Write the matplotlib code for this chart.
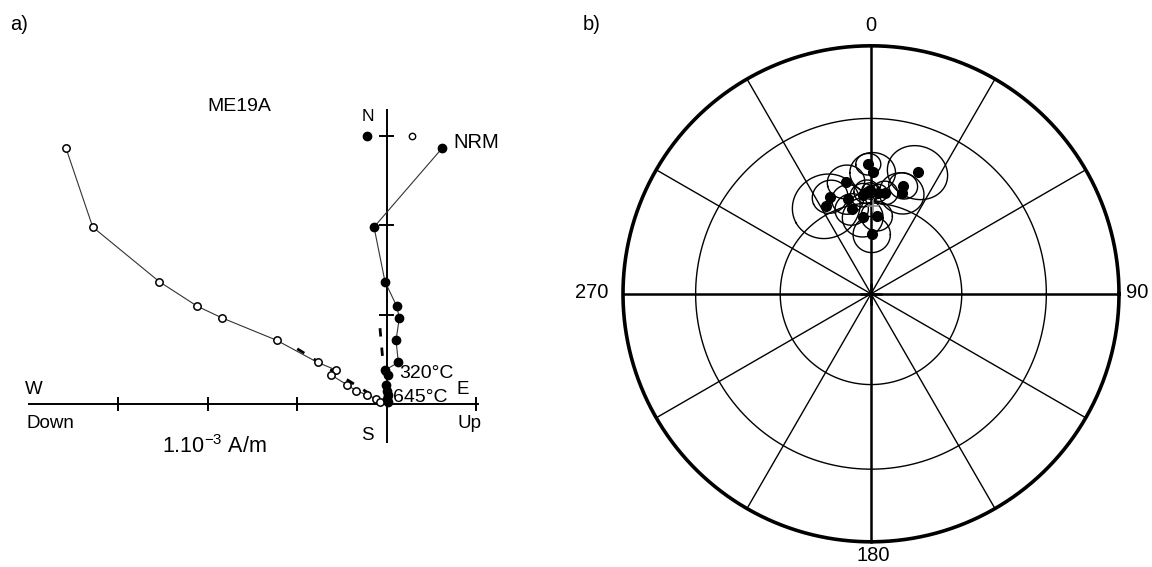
import numpy as np
import matplotlib
matplotlib.use("Agg")
import matplotlib.pyplot as plt


# ==========================================================
# PLOT STYLE
# ==========================================================
plt.rcParams.update({
    "font.family": ["Liberation Sans", "DejaVu Sans"],
    "mathtext.fontset": "custom",
    "mathtext.rm": "Liberation Sans",
    "mathtext.it": "Liberation Sans:italic",
    "mathtext.bf": "Liberation Sans:bold",
    "figure.dpi": 100,
    "savefig.dpi": 100,
})

COL_LINE = "#333333"


# ==========================================================
# DATA: a) ZIJDERVELD DIAGRAM (units of 1e-3 A/m)
# ==========================================================
north = [2.86, 1.98, 1.37, 1.095, 0.965, 0.715, 0.467, 0.383, 0.327,
         0.216, 0.152, 0.104, 0.062, 0.030]
east = [0.618, -0.142, -0.019, 0.112, 0.141, 0.104, 0.130, -0.019, 0.011,
        -0.008, 0.0, 0.011, 0.0, 0.010]
up = [-3.583, -3.285, -2.541, -2.116, -1.840, -1.229, -0.771, -0.566, -0.622,
      -0.440, -0.343, -0.217, -0.120, -0.080]

# principal component fits (end points)
fit_hor_east = [-0.075, 0.0]
fit_hor_north = [0.85, 0.0]
fit_ver_up = [-1.0, 0.0]
fit_ver_north = [0.62, 0.0]

x_ticks = [-3, -2, -1, 1]
y_ticks = [1, 2, 3]


# ==========================================================
# DATA: b) SITE DIRECTIONS, EQUAL-AREA
# ==========================================================
dec = [358.8, 0.8, 21.0, 347.4, 16.6, 17.0, 7.9, 357.6, 359.4, 337.1,
       346.1, 332.9, 347.1, 353.8, 4.2, 0.7, 355.4, 4.0]
inc = [46.6, 49.5, 46.4, 51.8, 52.5, 55.1, 56.2, 56.1, 55.6, 55.0,
       57.8, 57.3, 61.4, 64.7, 64.3, 70.5, 57.2, 56.5]
a95 = [3.8, 7.0, 9.3, 5.8, 4.5, 7.0, 4.0, 4.0, 2.5, 5.6,
       5.0, 10.8, 5.3, 6.5, 5.0, 6.0, 4.0, 3.0]

mean_dec, mean_inc = 1.0, 61.0

ring_incs = [30, 60]
spoke_decs = list(range(0, 360, 30))


# ==========================================================
# HELPERS
# ==========================================================
def proj(d, i):
    d = np.radians(d)
    i = np.radians(i)
    r = np.sqrt(2.0) * np.sin((np.pi / 2 - i) / 2)
    return r * np.sin(d), r * np.cos(d)


def small_circle(d, i, a, n=120):
    d, i, a = np.radians(d), np.radians(i), np.radians(a)
    v = np.array([np.cos(i) * np.cos(d), np.cos(i) * np.sin(d), np.sin(i)])
    ref = np.array([0.0, 0.0, 1.0]) if abs(v[2]) < 0.9 else np.array([1.0, 0.0, 0.0])
    u1 = np.cross(v, ref)
    u1 /= np.linalg.norm(u1)
    u2 = np.cross(v, u1)
    t = np.linspace(0, 2 * np.pi, n)
    p = (np.cos(a) * v[:, None]
         + np.sin(a) * (np.cos(t) * u1[:, None] + np.sin(t) * u2[:, None]))
    dd = np.degrees(np.arctan2(p[1], p[0]))
    ii = np.degrees(np.arcsin(np.clip(p[2], -1, 1)))
    return proj(dd, ii)


fig = plt.figure(figsize=(11.52, 5.67))

# ==========================================================
# a) ZIJDERVELD
# ==========================================================
ax = fig.add_axes([0, 0, 0.5, 1])
ax.set_xlim(-4.321, 2.115)
ax.set_ylim(-1.818, 4.517)
ax.axis("off")

ax.plot([-4.0, 1.02], [0, 0], color="k", lw=1.4, zorder=2)
ax.plot([0, 0], [-0.42, 3.29], color="k", lw=1.4, zorder=2)
for t in x_ticks:
    ax.plot([t, t], [-0.067, 0.067], color="k", lw=1.4, zorder=2)
for t in y_ticks:
    ax.plot([-0.075, 0.075], [t, t], color="k", lw=1.4, zorder=2)

ax.plot(fit_hor_east, fit_hor_north, color="k", lw=2.0, ls=(0, (3, 4)), zorder=3)
ax.plot(fit_ver_up, fit_ver_north, color="k", lw=2.0, ls=(0, (3, 4)), zorder=3)

ax.plot(east, north, color=COL_LINE, lw=0.8, zorder=4)
ax.plot(up, north, color=COL_LINE, lw=0.8, zorder=4)
ax.plot(up, north, ls="None", marker="o", ms=5.3, mfc="white", mec="k",
        mew=1.1, zorder=5)
ax.plot(east, north, ls="None", marker="o", ms=6.0, mfc="k", mec="k", zorder=6)

# symbol key at the top tick
ax.plot(-0.217, 3.0, ls="None", marker="o", ms=6.0, mfc="k", mec="k")
ax.plot(0.279, 3.0, ls="None", marker="o", ms=4.6, mfc="white", mec="k", mew=1.0)

ax.text(-1.65, 3.33, "ME19A", fontsize=14, ha="center", va="center")
ax.text(-0.21, 3.21, "N", fontsize=12.5, ha="center", va="center")
ax.text(0.74, 2.92, "NRM", fontsize=14.5, ha="left", va="center")
ax.text(-3.94, 0.17, "W", fontsize=13.5, ha="center", va="center")
ax.text(0.85, 0.17, "E", fontsize=13.5, ha="center", va="center")
ax.text(-4.03, -0.21, "Down", fontsize=13.5, ha="left", va="center")
ax.text(0.79, -0.21, "Up", fontsize=13.5, ha="left", va="center")
ax.text(-0.21, -0.345, "S", fontsize=13.5, ha="center", va="center")
ax.text(-2.515, -0.475, r"1.10$^{-3}$ A/m", fontsize=15.5, ha="left", va="center")
ax.text(0.14, 0.345, "320°C", fontsize=14, ha="left", va="center")
ax.text(0.07, 0.077, "645°C", fontsize=14, ha="left", va="center")

fig.text(10 / 1152, 1 - 24 / 567, "a)", fontsize=14.5, ha="left", va="center")

# ==========================================================
# b) EQUAL-AREA STEREONET
# ==========================================================
bx = fig.add_axes([0.5, 0, 0.5, 1])
bx.set_xlim(-1.1895, 1.1331)
bx.set_ylim(-1.1016, 1.1847)
bx.axis("off")

tt = np.linspace(0, 2 * np.pi, 400)
bx.plot(np.cos(tt), np.sin(tt), color="k", lw=2.6, zorder=3)
for ri in ring_incs:
    r = np.sqrt(2.0) * np.sin(np.radians(90 - ri) / 2)
    bx.plot(r * np.cos(tt), r * np.sin(tt), color="k", lw=1.0, zorder=2)
for sd in spoke_decs:
    lw = 1.8 if sd % 90 == 0 else 1.0
    bx.plot([0, np.sin(np.radians(sd))], [0, np.cos(np.radians(sd))],
            color="k", lw=lw, zorder=2)
bx.plot(0, 0, marker="+", ms=16, mew=1.8, color="k", zorder=3)

for d, i, a in zip(dec, inc, a95):
    cx, cy = small_circle(d, i, a)
    bx.plot(cx, cy, color="k", lw=1.0, zorder=4)
px, py = proj(np.array(dec), np.array(inc))
bx.plot(px, py, ls="None", marker="o", ms=7.0, mfc="k", mec="k", zorder=5)
mx, my = proj(mean_dec, mean_inc)
bx.plot(mx, my, marker="+", ms=8, mew=1.2, color="0.55", zorder=6)

bx.text(0, 1.083, "0", fontsize=14.5, ha="center", va="center")
bx.text(0.008, -1.054, "180", fontsize=14.5, ha="center", va="center")
bx.text(-1.06, 0.005, "270", fontsize=14.5, ha="right", va="center")
bx.text(1.03, 0.005, "90", fontsize=14.5, ha="left", va="center")

fig.text(583 / 1152, 1 - 25 / 567, "b)", fontsize=14.5, ha="left", va="center")

fig.savefig("out.png")
